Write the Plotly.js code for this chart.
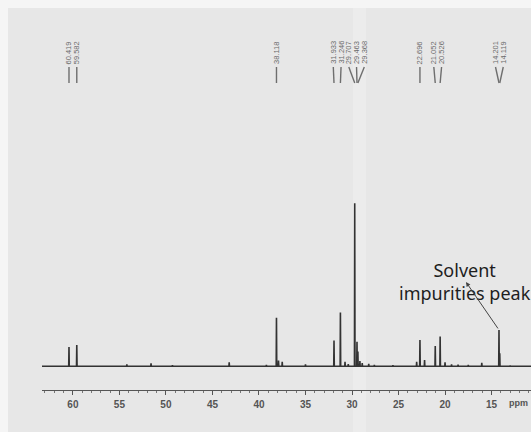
<!DOCTYPE html>
<html>
<head>
<meta charset="utf-8">
<script src="https://cdn.plot.ly/plotly-3.0.1.min.js"></script>
<style>html,body{margin:0;padding:0;background:#f5f5f5;}#chart{width:531px;height:432px;}</style>
</head>
<body>
<div id="chart"></div>
<script>
// ---- data ----
const peakShifts  = [60.419, 59.582, 38.118, 31.933, 31.246, 29.707, 29.463, 29.368, 22.696, 21.052, 20.526, 14.201, 14.119];
const peakHeights = [11.8,   13.1,   29.8,   15.8,   33.0,   100,    15.1,   9.0,    16.1,   12.5,   18.2,   22.3,   8.0];
const minorShifts  = [54.2, 51.6, 49.3, 43.2, 39.2, 37.9, 37.5, 35.0, 30.75, 30.4, 29.15, 28.9, 28.2, 27.6, 25.6, 23.05, 22.2, 20.0, 19.3, 18.6, 17.5, 16.05, 13.0];
const minorHeights = [1.2,  1.8,  0.6,  2.4,  0.8,  3.5,  2.8,  1.2,  2.8,   1.3,  3.2,   2.0,  1.5,  0.9,  0.6,  2.8,   3.8,  2.4,  1.2,  1.0,  0.8,  2.2,   0.5];
const tickValues = [60, 55, 50, 45, 40, 35, 30, 25, 20, 15];
const axisUnit = 'ppm';
const noteText = 'Solvent<br>impurities peak';
const noteTarget = 14.201;

// ---- layout constants ----
const W = 531, H = 432, ML = 42, MR = 0, MT = 8, MB = 42;
const xRange = [63.32, 10.76];
const yRange = [-14.54, 219.8];
const stick = 0.03;          // half width of a stick peak, ppm
const labelGap = 0.833;      // min spacing of peak labels, ppm

// build the stick spectrum from the peak arrays
const all = peakShifts.map((p, i) => [p, peakHeights[i]])
  .concat(minorShifts.map((p, i) => [p, minorHeights[i]]))
  .sort((a, b) => b[0] - a[0]);
const sx = [xRange[0]], sy = [0];
all.forEach(([p, h]) => { sx.push(p + stick, p, p - stick); sy.push(0, h, 0); });
sx.push(xRange[1]); sy.push(0);

// spread labels so they do not overlap (work with u = -ppm, increasing to the right)
function spread(pos, gap) {
  let groups = pos.map((p, i) => ({ idx: [i] , c: p }));
  let changed = true;
  while (changed) {
    changed = false;
    for (let i = 0; i < groups.length - 1; i++) {
      const a = groups[i], b = groups[i + 1];
      const aR = a.c + (a.idx.length - 1) * gap / 2;
      const bL = b.c - (b.idx.length - 1) * gap / 2;
      if (bL - aR < gap - 1e-6) {
        const idx = a.idx.concat(b.idx);
        const c = idx.reduce((s, k) => s + pos[k], 0) / idx.length;
        groups.splice(i, 2, { idx, c });
        changed = true;
        break;
      }
    }
  }
  const out = new Array(pos.length);
  groups.forEach(g => g.idx.forEach((k, j) => { out[k] = g.c + (j - (g.idx.length - 1) / 2) * gap; }));
  return out;
}
const order = peakShifts.map((p, i) => i).sort((a, b) => peakShifts[b] - peakShifts[a]);
const uSorted = order.map(i => -peakShifts[i]);
const uLab = spread(uSorted, labelGap);
const labelX = new Array(peakShifts.length);
order.forEach((i, j) => { labelX[i] = -uLab[j]; });

const plotH = H - MT - MB;
const py = px => (H - MB - px) / plotH;   // page pixel row -> paper y

const annotations = peakShifts.map((p, i) => ({
  x: labelX[i], xref: 'x', y: py(52.5), yref: 'paper',
  text: p.toFixed(3), showarrow: false, textangle: -90,
  xanchor: 'center', yanchor: 'middle',
  font: { family: 'Liberation Sans, Arial, sans-serif', size: 7.5, color: '#6a6a6a' }
}));
const shapes = [
  { type: 'rect', xref: 'paper', yref: 'paper', x0: (8 - ML) / (W - ML - MR), x1: 1, y0: py(H), y1: py(8),
    fillcolor: '#e7e7e7', line: { width: 0 }, layer: 'below' },
  { type: 'rect', xref: 'paper', yref: 'paper', x0: (353 - ML) / (W - ML - MR), x1: (366 - ML) / (W - ML - MR), y0: py(H), y1: py(8),
    fillcolor: '#ececec', line: { width: 0 }, layer: 'below' }
];
peakShifts.forEach((p, i) => {
  shapes.push({ type: 'line', xref: 'x', yref: 'paper', x0: p, y0: py(83), x1: labelX[i], y1: py(67),
    line: { color: '#6e6e6e', width: 1.4 } });
});
annotations.push({
  x: 10.87, xref: 'x', y: py(403), yref: 'paper', text: axisUnit, showarrow: false,
  xanchor: 'right', yanchor: 'middle',
  font: { family: 'Liberation Sans, Arial, sans-serif', size: 9, color: '#555', weight: 'bold' }
});
annotations.push({
  x: 17.83, xref: 'x', y: 51.8, yref: 'y', text: noteText, showarrow: false,
  xanchor: 'center', yanchor: 'middle', align: 'center',
  font: { family: 'Noto Sans, Open Sans, sans-serif', size: 18, color: '#1e1e1e' }
});
annotations.push({
  x: 17.75, y: 51.7, xref: 'x', yref: 'y',
  ax: noteTarget, ay: peakHeights[peakShifts.indexOf(noteTarget)], axref: 'x', ayref: 'y',
  text: '', showarrow: true, arrowhead: 2, arrowsize: 0.9, arrowwidth: 1, arrowcolor: '#444', standoff: 0, startstandoff: 0
});

const trace = {
  x: sx, y: sy, type: 'scatter', mode: 'lines',
  line: { color: '#333', width: 1.6 }, hoverinfo: 'skip', cliponaxis: true
};

const layout = {
  width: W, height: H,
  margin: { l: ML, r: MR, t: MT, b: MB, pad: 0 },
  paper_bgcolor: '#f5f5f5', plot_bgcolor: 'rgba(0,0,0,0)',
  showlegend: false,
  xaxis: {
    range: xRange, showgrid: false, zeroline: false,
    showline: true, linecolor: '#555', linewidth: 1,
    ticks: 'outside', ticklen: 4, tickcolor: '#555', tickwidth: 1,
    tickmode: 'array', tickvals: tickValues, ticktext: tickValues.map(String),
    ticklabelstandoff: 1,
    minor: { dtick: 1, ticks: 'outside', ticklen: 2, tickcolor: '#777', showgrid: false },
    tickfont: { family: 'Liberation Sans, Arial, sans-serif', size: 10, color: '#555', weight: 'bold' }
  },
  yaxis: { range: yRange, visible: false, fixedrange: true },
  annotations: annotations,
  shapes: shapes
};

Plotly.newPlot('chart', [trace], layout, { displayModeBar: false, staticPlot: true });
</script>
</body>
</html>
